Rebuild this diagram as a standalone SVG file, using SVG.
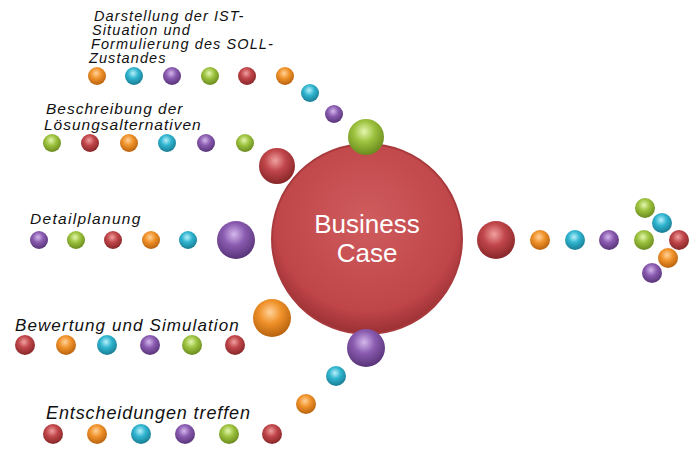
<svg xmlns="http://www.w3.org/2000/svg" width="700" height="462" viewBox="0 0 700 462">
<defs>
<radialGradient id="gO" cx="45%" cy="35%" r="65%"><stop offset="0" stop-color="#ffd29a"/><stop offset="0.45" stop-color="#f0922a"/><stop offset="1" stop-color="#b8620e"/></radialGradient>
<radialGradient id="gC" cx="45%" cy="35%" r="65%"><stop offset="0" stop-color="#b8f0fa"/><stop offset="0.45" stop-color="#2fb4cf"/><stop offset="1" stop-color="#1a7c93"/></radialGradient>
<radialGradient id="gP" cx="45%" cy="35%" r="65%"><stop offset="0" stop-color="#d4b8ec"/><stop offset="0.45" stop-color="#8a5bb0"/><stop offset="1" stop-color="#583478"/></radialGradient>
<radialGradient id="gG" cx="45%" cy="35%" r="65%"><stop offset="0" stop-color="#e4f6b0"/><stop offset="0.45" stop-color="#9cc23e"/><stop offset="1" stop-color="#6a8a1e"/></radialGradient>
<radialGradient id="gR" cx="45%" cy="35%" r="65%"><stop offset="0" stop-color="#f0a0a0"/><stop offset="0.45" stop-color="#c0464a"/><stop offset="1" stop-color="#862628"/></radialGradient>
<radialGradient id="gBig" cx="50%" cy="40%" r="60%"><stop offset="0" stop-color="#cf5c5e"/><stop offset="0.8" stop-color="#bf4548"/><stop offset="1" stop-color="#9a3034"/></radialGradient>
</defs>
<style>
.o{fill:url(#gO)}.c{fill:url(#gC)}.p{fill:url(#gP)}.g{fill:url(#gG)}.r{fill:url(#gR)}
text{font-family:"Liberation Sans",Arial,sans-serif;fill:#111}
.l1{font-size:14.5px;letter-spacing:1.1px}.it{font-style:italic}
</style>
<g id="center"><circle cx="367" cy="239" r="95" fill="url(#gBig)" stroke="#a83a3d" stroke-width="2"/>
<text x="367" y="233" text-anchor="middle" style="font-size:26px;fill:#fff">Business</text>
<text x="367" y="262" text-anchor="middle" style="font-size:26px;fill:#fff">Case</text></g>
<g id="row1">
<text class="l1 it" x="94" y="21">Darstellung der IST-</text>
<text class="l1 it" x="92" y="35">Situation und</text>
<text class="l1 it" x="91" y="49">Formulierung des SOLL-</text>
<text class="l1 it" x="89" y="63">Zustandes</text>
<circle class="o" cx="97" cy="76" r="9"/><circle class="c" cx="134" cy="76" r="9"/><circle class="p" cx="172" cy="76" r="9"/><circle class="g" cx="210" cy="76" r="9"/><circle class="r" cx="247" cy="76" r="9"/><circle class="o" cx="285" cy="76" r="9"/><circle class="c" cx="310" cy="93" r="9"/><circle class="p" cx="334" cy="114" r="9"/><circle class="g" cx="366" cy="137" r="18"/></g>
<g id="row2">
<text class="it" x="46" y="114" style="font-size:15.5px;letter-spacing:1px">Beschreibung der</text>
<text class="it" x="44" y="130" style="font-size:15.5px;letter-spacing:1px">Lösungsalternativen</text>
<circle class="g" cx="52" cy="143" r="9"/><circle class="r" cx="90" cy="143" r="9"/><circle class="o" cx="129" cy="143" r="9"/><circle class="c" cx="167" cy="143" r="9"/><circle class="p" cx="206" cy="143" r="9"/><circle class="g" cx="245" cy="143" r="9"/><circle class="r" cx="277" cy="166" r="18"/></g>
<g id="row3">
<text class="it" x="30" y="224" style="font-size:15.5px;letter-spacing:1.3px">Detailplanung</text>
<circle class="p" cx="39" cy="240" r="9"/><circle class="g" cx="76" cy="240" r="9"/><circle class="r" cx="113" cy="240" r="9"/><circle class="o" cx="151" cy="240" r="9"/><circle class="c" cx="188" cy="240" r="9"/><circle class="p" cx="236" cy="240" r="19"/></g>
<g id="row4">
<text class="it" x="15" y="331" style="font-size:17px;letter-spacing:1.1px">Bewertung und Simulation</text>
<circle class="r" cx="25" cy="345" r="10"/><circle class="o" cx="66" cy="345" r="10"/><circle class="c" cx="107" cy="345" r="10"/><circle class="p" cx="150" cy="345" r="10"/><circle class="g" cx="192" cy="345" r="10"/><circle class="r" cx="235" cy="345" r="10"/><circle class="o" cx="272" cy="318" r="19"/></g>
<g id="row5">
<text class="it" x="46" y="419" style="font-size:18px;letter-spacing:0.9px">Entscheidungen treffen</text>
<circle class="r" cx="53" cy="434" r="10"/><circle class="o" cx="97" cy="434" r="10"/><circle class="c" cx="141" cy="434" r="10"/><circle class="p" cx="185" cy="434" r="10"/><circle class="g" cx="229" cy="434" r="10"/><circle class="r" cx="272" cy="434" r="10"/><circle class="o" cx="306" cy="404" r="10"/><circle class="c" cx="336" cy="376" r="10"/><circle class="p" cx="366" cy="348" r="19"/></g>
<g id="arrow">
<circle class="r" cx="496" cy="240" r="19"/><circle class="o" cx="540" cy="240" r="10"/><circle class="c" cx="575" cy="240" r="10"/><circle class="p" cx="609" cy="240" r="10"/><circle class="g" cx="644" cy="240" r="10"/><circle class="g" cx="645" cy="208" r="10"/><circle class="c" cx="662" cy="223" r="10"/><circle class="r" cx="679" cy="240" r="10"/><circle class="o" cx="668" cy="258" r="10"/><circle class="p" cx="652" cy="273" r="10"/></g>
<g id="connectors"/>
</svg>
